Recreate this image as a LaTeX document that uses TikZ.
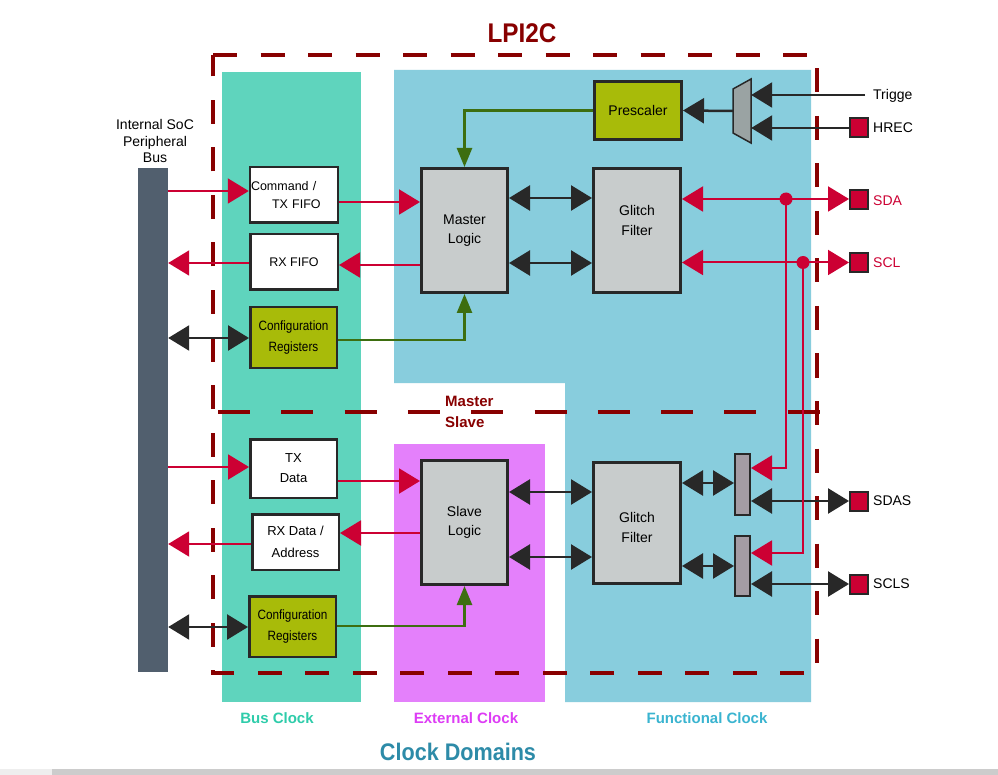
\documentclass[tikz,border=0pt]{standalone}
\usepackage{fontspec}
\setmainfont{Liberation Sans}
\newfontfamily\condfont[FakeStretch=0.9]{Liberation Sans}
\newfontfamily\narrowfont[FakeStretch=0.87]{Liberation Sans}
\usetikzlibrary{arrows.meta,calc}
\definecolor{busteal}{RGB}{95,212,189}
\definecolor{fnblue}{RGB}{136,205,221}
\definecolor{extpink}{RGB}{228,128,251}
\definecolor{cfgolive}{RGB}{168,187,9}
\definecolor{logicgray}{RGB}{200,204,204}
\definecolor{dkred}{RGB}{136,0,0}
\definecolor{crim}{RGB}{204,0,51}
\definecolor{busslate}{RGB}{81,95,110}
\definecolor{edgec}{RGB}{40,40,40}
\definecolor{greenline}{RGB}{61,110,16}
\definecolor{muxgray}{RGB}{154,163,163}
\definecolor{smallgray}{RGB}{164,156,164}
\definecolor{bustxt}{RGB}{46,204,170}
\definecolor{exttxt}{RGB}{221,60,245}
\definecolor{fntxt}{RGB}{58,180,208}
\definecolor{cdtxt}{RGB}{45,139,168}
\definecolor{lightbar}{RGB}{238,238,238}
\definecolor{graybar}{RGB}{204,204,204}
\tikzset{
  whbox/.style={draw=edgec, line width=2.5pt, fill=white, inner sep=1pt, align=center, text=black},
  cfgbox/.style={whbox, fill=cfgolive, font=\narrowfont\fontsize{13.5}{21}\selectfont},
  logicbox/.style={draw=edgec, line width=3pt, fill=logicgray, inner sep=1pt, align=center, font=\fontsize{14}{19}\selectfont},
  inbox/.style={inner sep=0pt, align=center, font=\fontsize{14}{20}\selectfont},
  padbox/.style={draw=edgec, line width=2pt, fill=crim, minimum width=18pt, minimum height=19pt, inner sep=0pt},
  padtxt/.style={anchor=west, inner sep=0pt, font=\fontsize{14}{16}\selectfont},
  sbox/.style={draw=edgec, line width=2pt, fill=smallgray, minimum width=15pt, inner sep=0pt},
  tipshape/.tip={Triangle[length=21pt,width=25pt]},
  gtip/.tip={Triangle[length=19pt,width=15pt]},
  blkarrow/.style={draw=edgec, line width=2.5pt, tipshape-tipshape},
  blkone/.style={draw=edgec, line width=2.5pt, -tipshape},
  redarrow/.style={draw=crim, line width=2pt, -tipshape},
  redboth/.style={draw=crim, line width=2pt, tipshape-tipshape},
  grnarrow/.style={draw=greenline, line width=2.5pt, -gtip},
  dashborder/.style={draw=dkred, line width=4pt},
  domtxt/.style={font=\fontsize{15}{17}\selectfont\bfseries, inner sep=0pt},
}
\begin{document}
\begin{tikzpicture}[x=1pt,y=-1pt]
\useasboundingbox (0,0) rectangle (998,775);
\fill[white] (0,0) rectangle (998,775);
% clock domain regions
\fill[busteal] (222,72) rectangle (361,702);
\fill[fnblue] (394,70) -- (811,70) -- (811,702) -- (565,702) -- (565,383) -- (394,383) -- cycle;
\fill[extpink] (394,444) rectangle (545,702);
\fill[lightbar] (0,769) rectangle (52,775);
\fill[graybar] (52,769) rectangle (998,775);
% LPI2C border and master/slave split
\draw[dashborder, dash pattern=on 24pt off 23.5pt] (213,55) -- (817,55) -- (817,673) -- (213,673) -- cycle;
\draw[dashborder, dash pattern=on 32pt off 31.3pt] (218,412) -- (820,412);
% titles
\node[inner sep=0pt, text=dkred, font=\condfont\fontsize{27}{30}\selectfont\bfseries] (title) at (522,33) {LPI2C};
\node[anchor=west, inner sep=0pt, text=dkred, font=\fontsize{15}{17}\selectfont\bfseries] (mastlbl) at (445,401) {Master};
\node[anchor=west, inner sep=0pt, text=dkred, font=\fontsize{15}{17}\selectfont\bfseries] (slavlbl) at (445,422) {Slave};
\node[domtxt, text=bustxt] (busclk) at (277,718) {Bus Clock};
\node[domtxt, text=exttxt] (extclk) at (466,718) {External Clock};
\node[domtxt, text=fntxt] (fnclk) at (707,718) {Functional Clock};
\node[inner sep=0pt, text=cdtxt, font=\condfont\fontsize{24}{26}\selectfont\bfseries] (cdom) at (458,752) {Clock Domains};
% bus
\node[fill=busslate, minimum width=30pt, minimum height=504pt, inner sep=0pt] (bus) at (153,420) {};
\node[inner sep=0pt, align=center, font=\fontsize{14}{16.5}\selectfont] (bustitle) at (155,141) {Internal SoC\\Peripheral\\Bus};
% bus-clock boxes
\node[whbox, minimum width=87.5pt, minimum height=55.5pt, text width=86pt, align=left, font=\fontsize{12.5}{18}\selectfont] (cmd) at (294,195) {Command /\\\hspace*{21pt}TX FIFO};
\node[whbox, minimum width=87.5pt, minimum height=55.5pt, font=\fontsize{12.5}{14}\selectfont] (rxf) at (294,262) {RX FIFO};
\node[cfgbox, minimum width=86.5pt, minimum height=60.5pt] (cfg1) at (293.5,337.5) {Configuration\\Registers};
\node[whbox, minimum width=86.5pt, minimum height=58.5pt, font=\fontsize{13}{20}\selectfont] (txd) at (293.5,468.5) {TX\\Data};
\node[whbox, minimum width=86.5pt, minimum height=55.5pt, font=\fontsize{13}{22}\selectfont] (rxd) at (295.5,542) {RX Data /\\Address};
\node[cfgbox, minimum width=86.5pt, minimum height=60.5pt] (cfg2) at (292.5,626.5) {Configuration\\Registers};
% logic boxes
\node[logicbox, minimum width=86pt, minimum height=124pt] (ml) at (464.5,230.5) {Master\\Logic};
\node[logicbox, minimum width=87pt, minimum height=124pt] (gf1) at (637,230.5) {};
\node[inbox] (gf1txt) at (637,220) {Glitch\\Filter};
\node[logicbox, minimum width=86pt, minimum height=124pt] (sl) at (464.5,522.5) {Slave\\Logic};
\node[logicbox, minimum width=87pt, minimum height=121pt] (gf2) at (637,523) {};
\node[inbox] (gf2txt) at (637,527) {Glitch\\Filter};
\node[draw=edgec, line width=3pt, fill=cfgolive, minimum width=87pt, minimum height=58pt, inner sep=0pt, font=\fontsize{14}{16}\selectfont] (pre) at (638,110.5) {Prescaler};
% mux
\node[minimum width=18pt, minimum height=64pt, inner sep=0pt] (mux) at (742,111) {};
\draw[draw=edgec, line width=1.5pt, fill=muxgray] (733,89) -- (751,79) -- (751,143) -- (733,133) -- cycle;
% small filter boxes
\node[sbox, minimum height=61pt] (sb1) at (742.5,484.5) {};
\node[sbox, minimum height=60pt] (sb2) at (742.5,566) {};
% pads and labels
\coordinate (trig) at (865,95);
\node[padtxt] (trigtxt) at (873,96) {Trigge};
\node[padbox] (hreqp) at (859,128) {};
\node[padtxt] (hreqtxt) at (873,128) {HREC};
\node[padbox] (sdap) at (859,200) {};
\node[padtxt, text=crim] (sdatxt) at (873,201) {SDA};
\node[padbox] (sclp) at (859,262.5) {};
\node[padtxt, text=crim] (scltxt) at (873,263) {SCL};
\node[padbox] (sdasp) at (859,501) {};
\node[padtxt] (sdastxt) at (873,501) {SDAS};
\node[padbox] (sclsp) at (859,584) {};
\node[padtxt] (sclstxt) at (873,584) {SCLS};
% master path connectors
\draw[redarrow] (bus.east |- 0,191) -- (cmd.west |- 0,191);
\draw[redarrow] (cmd.east |- 0,202) -- (ml.west |- 0,202);
\draw[redarrow] (ml.west |- 0,265) -- (rxf.east |- 0,265);
\draw[redarrow] (rxf.west |- 0,263) -- (bus.east |- 0,263);
\draw[blkarrow] (bus.east |- 0,338) -- (cfg1.west |- 0,338);
\draw[grnarrow] (cfg1.east |- 0,340) -- (ml.south |- 0,340) -- (ml.south);
\draw[grnarrow] (pre.west) -- (ml.north |- pre.west) -- (ml.north);
\draw[blkone] (mux.west |- 0,111) -- (pre.east);
\draw[blkone] (trig) -- (mux.east |- trig);
\draw[blkone] (hreqp.west) -- (mux.east |- hreqp.west);
\draw[blkarrow] (ml.east |- 0,198) -- (gf1.west |- 0,198);
\draw[blkarrow] (ml.east |- 0,263) -- (gf1.west |- 0,263);
% slave path connectors
\draw[redarrow] (bus.east |- 0,467) -- (txd.west |- 0,467);
\draw[redarrow] (txd.east |- 0,481) -- (sl.west |- 0,481);
\draw[redarrow] (sl.west |- 0,533) -- (rxd.east |- 0,533);
\draw[redarrow] (rxd.west |- 0,544) -- (bus.east |- 0,544);
\draw[blkarrow] (bus.east |- 0,627) -- (cfg2.west |- 0,627);
\draw[grnarrow] (cfg2.east |- 0,626) -- (sl.south |- 0,626) -- (sl.south);
\draw[blkarrow] (sl.east |- 0,492) -- (gf2.west |- 0,492);
\draw[blkarrow] (sl.east |- 0,557) -- (gf2.west |- 0,557);
\draw[blkarrow] (gf2.east |- 0,483) -- (sb1.west |- 0,483);
\draw[blkarrow] (gf2.east |- 0,566) -- (sb2.west |- 0,566);
\draw[blkarrow] (sb1.east |- 0,501) -- (sdasp.west);
\draw[blkarrow] (sb2.east |- 0,584) -- (sclsp.west);
% SDA / SCL
\coordinate (dot1) at (786,199);
\coordinate (dot2) at (803,262.5);
\draw[redboth] (gf1.east |- dot1) -- (sdap.west |- dot1);
\draw[redboth] (gf1.east |- dot2) -- (sclp.west |- dot2);
\draw[redarrow] (dot1) -- (dot1 |- 0,468) -- (sb1.east |- 0,468);
\draw[redarrow] (dot2) -- (dot2 |- 0,553) -- (sb2.east |- 0,553);
\fill[crim] (dot1) circle (6.5);
\fill[crim] (dot2) circle (6.5);
\end{tikzpicture}
\end{document}
